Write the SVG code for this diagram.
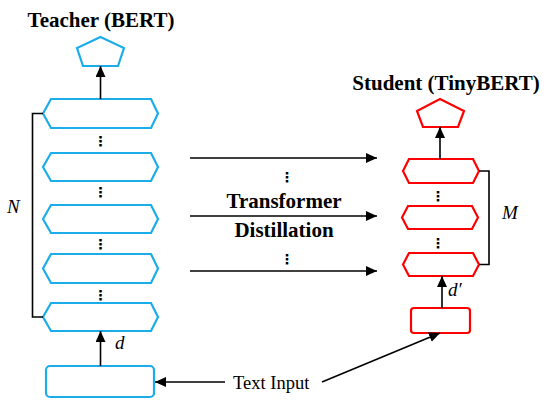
<svg xmlns="http://www.w3.org/2000/svg" width="552" height="404" viewBox="0 0 552 404">
<defs>
<marker id="ah" markerUnits="userSpaceOnUse" markerWidth="12" markerHeight="10" refX="11" refY="5" orient="auto">
<path d="M0,0 L11,5 L0,10 Z" fill="#000"/>
</marker>
<style>
.tb{fill:none;stroke:#1AADE9;stroke-width:2.2;stroke-linejoin:miter}
.sr{fill:none;stroke:#FF0000;stroke-width:2.2;stroke-linejoin:miter}
.ln{fill:none;stroke:#000;stroke-width:1.6}
.ar{fill:none;stroke:#000;stroke-width:1.6;marker-end:url(#ah)}
.title{font-family:"Liberation Serif",serif;font-weight:bold;font-size:21px;fill:#000;text-anchor:middle}
.bold{font-family:"Liberation Serif",serif;font-weight:bold;font-size:21px;fill:#000;text-anchor:middle}
.it{font-family:"Liberation Serif",serif;font-style:italic;font-size:19px;fill:#000}
.norm{font-family:"Liberation Serif",serif;font-size:18.5px;fill:#000}
.dots{font-family:"DejaVu Sans",sans-serif;font-size:14px;font-weight:bold;fill:#000;text-anchor:middle}
</style>
</defs>
<g id="teacher-title"><text class="title" x="101" y="27">Teacher (BERT)</text></g>
<g id="student-title"><text class="title" x="446" y="90">Student (TinyBERT)</text></g>

<g id="teacher-output"><polygon class="tb" points="100.5,37 124,48 118,66 83,66 77,48"/></g>
<g id="teacher-layer1"><polygon class="tb" points="51,99 151,99 158,113.5 151,128 51,128 43,113.5"/></g>
<g id="teacher-layer2"><polygon class="tb" points="51,153 151,153 158,167 151,181 51,181 43,167"/></g>
<g id="teacher-layer3"><polygon class="tb" points="51,205 151,205 158,219 151,233 51,233 43,219"/></g>
<g id="teacher-layer4"><polygon class="tb" points="51,254 151,254 158,268.5 151,283 51,283 43,268.5"/></g>
<g id="teacher-layer5"><polygon class="tb" points="51,303 151,303 158,317 151,331 51,331 43,317"/></g>
<g id="teacher-input"><rect class="tb" x="46" y="366" width="108" height="31" rx="4"/></g>

<g id="student-output"><polygon class="sr" points="440,99 464,111 458,127 423,127 417,111"/></g>
<g id="student-layer1"><polygon class="sr" points="409,159 473,159 479,171 473,183 409,183 403,171"/></g>
<g id="student-layer2"><polygon class="sr" points="408,206 472,206 478,217.5 472,229 408,229 402,217.5"/></g>
<g id="student-layer3"><polygon class="sr" points="409,253 473,253 479,264.5 473,276 409,276 403,264.5"/></g>
<g id="student-input"><rect class="sr" x="411" y="308" width="59" height="25" rx="3"/></g>

<g id="labels">
<text class="dots" x="100.5" y="145.5">⋮</text>
<text class="dots" x="100.5" y="196.5">⋮</text>
<text class="dots" x="100.5" y="248.5">⋮</text>
<text class="dots" x="100.5" y="299.5">⋮</text>
<text class="dots" x="287" y="181.5">⋮</text>
<text class="dots" x="287" y="263.5">⋮</text>
<text class="dots" x="438" y="200.5">⋮</text>
<text class="dots" x="438" y="247.5">⋮</text>
<text class="bold" x="284" y="208">Transformer</text>
<text class="bold" x="284" y="237">Distillation</text>
<text class="it" x="7" y="213">N</text>
<text class="it" x="502" y="219">M</text>
<text class="it" x="115" y="349">d</text>
<text class="it" x="448" y="296">d′</text>
<text class="norm" x="233" y="389">Text Input</text>
</g>

<g id="connectors">
<path class="ar" d="M100.5,99 V66"/>
<path class="ar" d="M100.5,366 V331"/>
<path class="ar" d="M440,159 V127"/>
<path class="ar" d="M442,308 V276"/>
<path class="ar" d="M190,158 H377"/>
<path class="ar" d="M190,216 H377"/>
<path class="ar" d="M190,271 H377"/>
<path class="ar" d="M225,382 H155"/>
<path class="ar" d="M322,382 L440,333"/>
<path class="ln" d="M43,113.5 H32.5 V317 H43"/>
<path class="ln" d="M479,171 H489 V264.5 H479"/>
</g>
</svg>
